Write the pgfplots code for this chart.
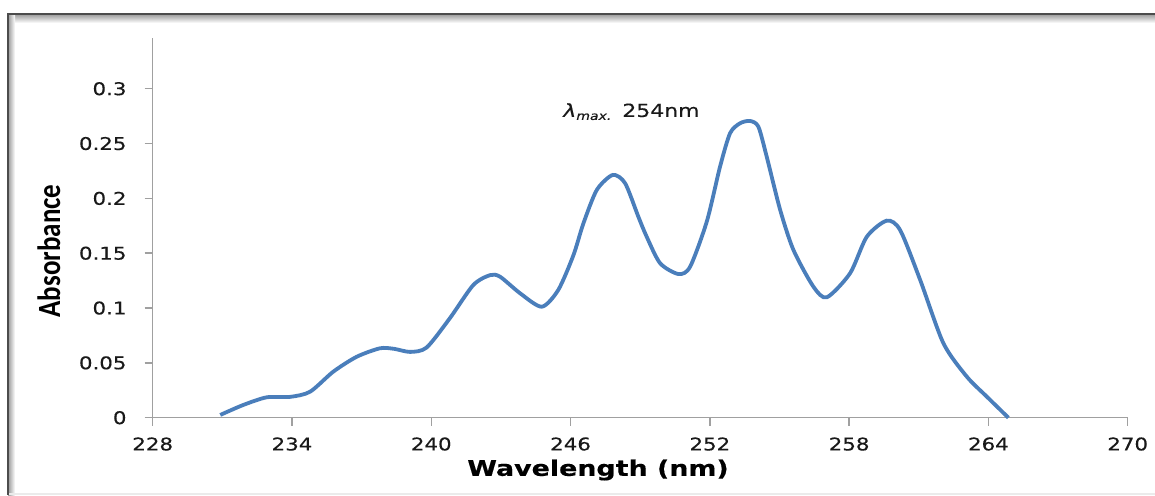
\documentclass[border=0pt]{standalone}
\usepackage{pgfplots}
\pgfplotsset{compat=1.18}
\usepackage{fontspec}
\setmainfont{DejaVu Sans}
\newfontfamily\tickfont[FakeStretch=1.22,FakeBold=0.3]{DejaVu Sans}
\newfontfamily\labfont[FakeStretch=1.25,FakeBold=0.4]{DejaVu Sans}
\newfontfamily\absfont{Carlito}
\definecolor{serblue}{HTML}{4A7EBB}
\definecolor{axgray}{RGB}{160,160,160}
\begin{document}
\begin{tikzpicture}[x=1pt,y=1pt]
\useasboundingbox (0,0) rectangle (1155,495);
\fill[white] (0,0) rectangle (1155,495);
\shade[top color=black!40, bottom color=white] (8,472) rectangle (1155,481);
\shade[left color=black!40, right color=white] (8,0) rectangle (15,481);
\fill[black!8] (8,0) rectangle (1155,2);
\draw[line width=2pt, black!70] (8.3,0) -- (8.3,481) -- (1155,481);
\begin{axis}[
  at={(152.7pt,77.3pt)}, anchor=south west,
  scale only axis, width=975pt, height=379.4pt,
  xmin=228, xmax=270, ymin=0, ymax=0.346,
  axis x line*=bottom, axis y line*=left,
  axis line style={draw=axgray, line width=1.5pt, -},
  xtick={228,234,240,246,252,258,264,270},
  xticklabels={228,234,240,246,252,258,264,270},
  ytick={0,0.05,0.1,0.15,0.2,0.25,0.3},
  yticklabels={0,0.05,0.1,0.15,0.2,0.25,0.3},
  tick align=outside, major tick length=8pt,
  tick style={draw=axgray, line width=1.5pt},
  xticklabel style={font=\tickfont\fontsize{17.5}{17.5}\selectfont, text=black!90, anchor=north, inner sep=0pt, yshift=-11.5pt},
  yticklabel style={font=\tickfont\fontsize{17.5}{17.5}\selectfont, text=black!90, anchor=east, inner sep=0pt, xshift=-18pt},
  clip=false,
]
\addplot[serblue, line width=3.8pt, smooth, tension=0.45] coordinates {
(230.91,0.0025) (231.9,0.0116) (232.91,0.0186) (233.92,0.019) (234.78,0.0237)
(235.78,0.042) (236.79,0.0556) (237.79,0.0633) (238.4,0.0628) (239.09,0.060)
(239.8,0.064) (240.8,0.0907) (241.81,0.121) (242.53,0.130) (242.96,0.1286)
(243.83,0.1134) (244.76,0.1012) (245.47,0.1165) (246.12,0.1480) (246.55,0.177)
(247.13,0.2077) (247.82,0.2214) (248.35,0.2138) (248.92,0.1833) (249.28,0.165)
(249.86,0.1408) (250.65,0.131) (251.15,0.1377) (251.87,0.1790) (252.44,0.229)
(252.87,0.2594) (253.3,0.2685) (253.73,0.2706) (254.09,0.2654) (254.45,0.238)
(255.03,0.1894) (255.6,0.153) (256.46,0.1195) (257.04,0.1098)
(258.04,0.1317) (258.76,0.165) (259.62,0.1797) (260.2,0.171) (261.06,0.1256)
(262.06,0.0679) (263.07,0.0374) (263.93,0.0192) (264.86,0.0)
};
\node[anchor=base west, inner sep=0pt, text=black!90] at (axis cs:245.68,0.2743)
  {\tickfont\fontsize{18}{18}\selectfont\itshape λ\raisebox{-3pt}{\fontsize{11.5}{11.5}\selectfont max.}\upshape\hspace{11pt}254nm};
\end{axis}
\node[rotate=90, inner sep=0pt] at (49,244) {\scalebox{1}[1.2]{\absfont\bfseries\fontsize{27}{27}\selectfont Absorbance}};
\node[inner sep=0pt] at (598,25) {\labfont\bfseries\fontsize{21.5}{21.5}\selectfont Wavelength (nm)};
\end{tikzpicture}
\end{document}
